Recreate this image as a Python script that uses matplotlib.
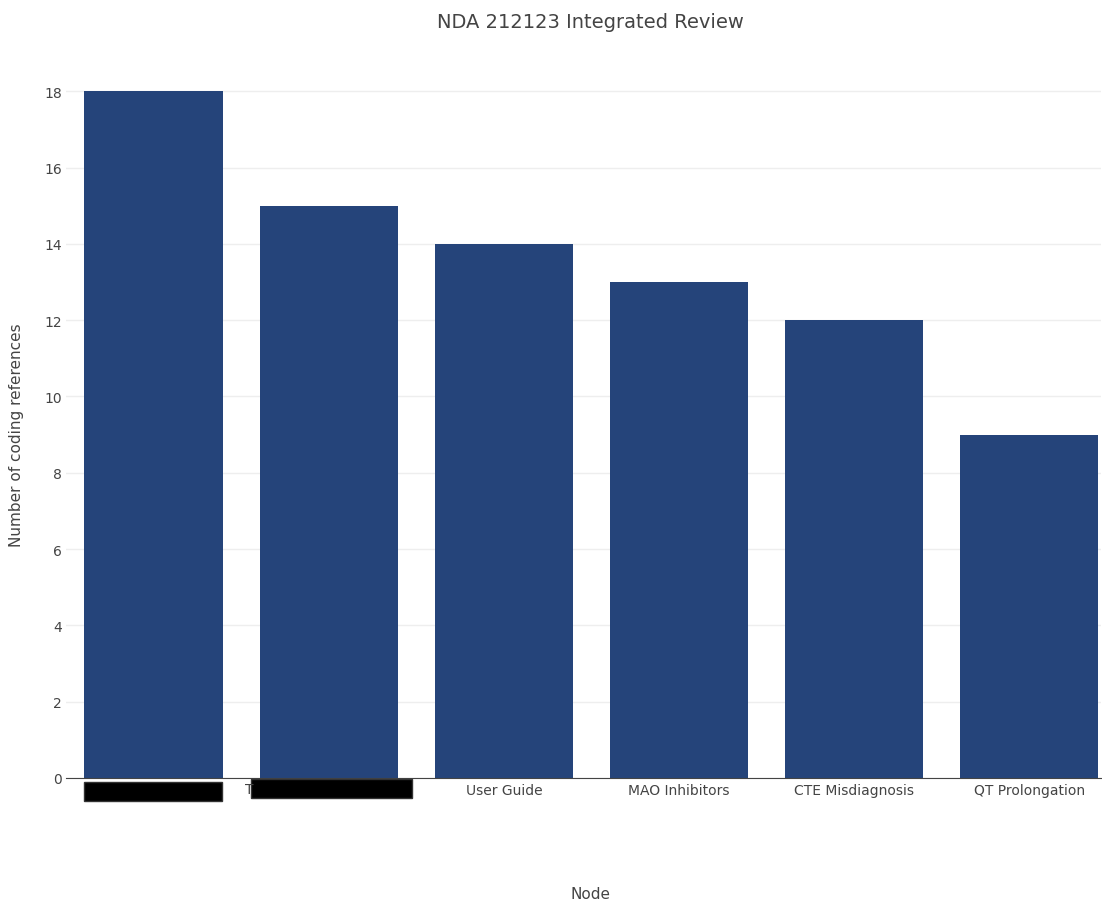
import matplotlib.pyplot as plt
from matplotlib.patches import Rectangle

nodes = ["", "", "User Guide", "MAO Inhibitors", "CTE Misdiagnosis", "QT Prolongation"]
refs = [18, 15, 14, 13, 12, 9]
yticks = [0, 2, 4, 6, 8, 10, 12, 14, 16, 18]

W, H = 1102, 903
fig = plt.figure(figsize=(W / 100, H / 100), dpi=100)
ax = fig.add_axes([66 / W, (H - 779) / H, (1101 - 66) / W, 723 / H])

ax.bar(range(len(nodes)), refs, width=0.79, color='#25447a', zorder=2)
ax.set_xlim(-0.5, 5.41)
ax.set_ylim(0, 18.95)
ax.set_yticks(yticks)
ax.set_xticks(range(len(nodes)))
ax.set_xticklabels(nodes)
ax.grid(axis='y', color='#eeeeee', linewidth=1, zorder=0)
for s in ['top', 'right', 'left']:
    ax.spines[s].set_visible(False)
ax.spines['bottom'].set_color('#444444')
ax.tick_params(axis='both', length=0, labelsize=10, labelcolor='#444444')
ax.tick_params(axis='x', pad=3.5)
ax.tick_params(axis='y', pad=3)

fig.text(590 / W, 1 - 22 / H, 'NDA 212123 Integrated Review', ha='center', va='center',
         fontsize=14, color='#444444')
fig.text(590 / W, 1 - 895 / H, 'Node', ha='center', va='center', fontsize=11, color='#444444')
fig.text(17 / W, 1 - 435 / H, 'Number of coding references', ha='center', va='center',
         rotation=90, fontsize=11, color='#444444')

# redacted labels
fig.text(245 / W, 1 - 790 / H, 'T', ha='left', va='center', fontsize=10, color='#444444')
for x0, y0, x1, y1 in [(84, 783, 222, 802), (251, 780, 412, 799)]:
    fig.add_artist(Rectangle((x0 / W, 1 - y1 / H), (x1 - x0) / W, (y1 - y0) / H,
                             facecolor='black', edgecolor='#333333', transform=fig.transFigure))

fig.savefig('out.png', dpi=100)
